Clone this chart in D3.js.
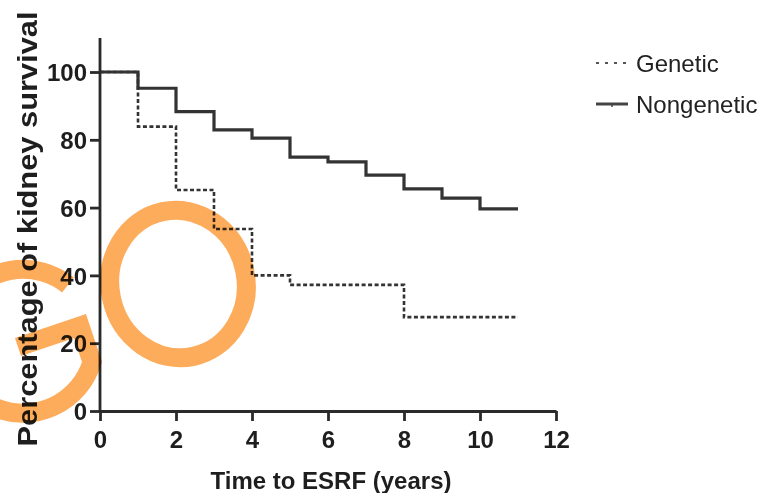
<!DOCTYPE html>
<html>
<head>
<meta charset="utf-8">
<script src="https://cdn.jsdelivr.net/npm/d3@7"></script>
<style>
  html, body { margin: 0; padding: 0; background: #fff; }
  svg { display: block; }
</style>
</head>
<body>
<svg id="chart" width="768" height="493"></svg>
<script>
// ---- data ----
const seriesNames = ["Genetic", "Nongenetic"];
const geneticTimes = [0, 1, 2, 3, 4, 5, 8, 11];
const geneticValues = [100, 83.9, 65.2, 53.7, 40.0, 37.2, 27.7, 27.7];
const nongeneticTimes = [0, 1, 2, 3, 4, 5, 6, 7, 8, 9, 10, 11];
const nongeneticValues = [100, 95.2, 88.3, 82.9, 80.5, 74.9, 73.5, 69.6, 65.5, 62.8, 59.6, 59.6];
const xTicks = [0, 2, 4, 6, 8, 10, 12];
const yTicks = [0, 20, 40, 60, 80, 100];
const xTitle = "Time to ESRF (years)";
const yTitle = "Percentage of kidney survival";
const watermarkText = "GO";

// ---- layout ----
const svg = d3.select("#chart");
const ink = "#2a2a2a";
const x = d3.scaleLinear().domain([0, 12]).range([100, 556]);
const y = d3.scaleLinear().domain([0, 100]).range([411, 72]);

const toPts = (ts, vs) => ts.map((t, i) => [t, vs[i]]);
const line = d3.line().x(d => x(d[0])).y(d => y(d[1])).curve(d3.curveStepAfter);

// curves
svg.append("path")
  .attr("d", line(toPts(nongeneticTimes, nongeneticValues)))
  .attr("fill", "none").attr("stroke", "#333").attr("stroke-width", 3.2);
svg.append("path")
  .attr("d", line(toPts(geneticTimes, geneticValues)))
  .attr("fill", "none").attr("stroke", "#333").attr("stroke-width", 2.6)
  .attr("stroke-dasharray", "4,2.5");

// axes
const xAxis = d3.axisBottom(x).tickValues(xTicks).tickSize(10).tickSizeOuter(0).tickPadding(10);
const gx = svg.append("g").attr("transform", `translate(0,${y(0)})`).call(xAxis);
const yAxis = d3.axisLeft(y).tickValues(yTicks).tickSize(10).tickSizeOuter(0).tickPadding(3);
const gy = svg.append("g").attr("transform", `translate(${x(0)},0)`).call(yAxis);
gy.select(".domain").attr("d", `M0,${y(0)}V${y(110)}`);
[gx, gy].forEach(g => {
  g.select(".domain").attr("stroke", ink).attr("stroke-width", 2.8);
  g.selectAll(".tick line").attr("stroke", ink).attr("stroke-width", 2.8);
  g.selectAll(".tick text")
    .attr("fill", "#1e1e1e")
    .attr("font-family", "Liberation Sans, Arial, sans-serif")
    .attr("font-weight", "bold")
    .attr("font-size", 24);
});
gy.selectAll(".tick text").attr("dy", "0.36em");

// titles
svg.append("text")
  .attr("x", 331).attr("y", 489)
  .attr("text-anchor", "middle")
  .attr("font-family", "Liberation Sans, Arial, sans-serif")
  .attr("font-weight", "bold").attr("font-size", 24)
  .attr("fill", "#1e1e1e")
  .text(xTitle);
svg.append("text")
  .attr("transform", "translate(37,229) rotate(-90)")
  .attr("text-anchor", "middle")
  .attr("font-family", "Liberation Sans, Arial, sans-serif")
  .attr("font-weight", "bold").attr("font-size", 27)
  .attr("textLength", 435).attr("lengthAdjust", "spacingAndGlyphs")
  .attr("fill", "#1e1e1e")
  .text(yTitle);

// legend
const legend = svg.append("g");
const legY = [63, 104];
seriesNames.forEach((name, i) => {
  const g = legend.append("g");
  g.append("line")
    .attr("x1", 596).attr("x2", 628).attr("y1", legY[i]).attr("y2", legY[i])
    .attr("stroke", i === 0 ? "#555" : "#444")
    .attr("stroke-width", i === 0 ? 2 : 3)
    .attr("stroke-dasharray", i === 0 ? "3,6" : null);
  if (i === 1) {
    g.append("line").attr("x1", 612).attr("x2", 612).attr("y1", legY[i]).attr("y2", legY[i] + 3)
      .attr("stroke", "#444").attr("stroke-width", 1.5);
  }
  g.append("text")
    .attr("x", 636).attr("y", legY[i] + 9)
    .attr("font-family", "Liberation Sans, Arial, sans-serif")
    .attr("font-size", 24).attr("fill", "#222")
    .text(name);
});

// watermark "GO" (orange hand-drawn strokes)
const wm = svg.append("g").attr("aria-label", watermarkText)
  .style("mix-blend-mode", "multiply");
wm.append("ellipse")
  .attr("cx", 178).attr("cy", 284).attr("rx", 68).attr("ry", 74)
  .attr("transform", "rotate(-12,178,284)")
  .attr("fill", "none").attr("stroke", "#fdac5c").attr("stroke-width", 19);
wm.append("path")
  .attr("d", "M68,285 A72,72 0 1,0 92,362 L80,326 L18,347")
  .attr("fill", "none").attr("stroke", "#fdac5c").attr("stroke-width", 19)
  .attr("stroke-linejoin", "miter");
</script>
</body>
</html>
